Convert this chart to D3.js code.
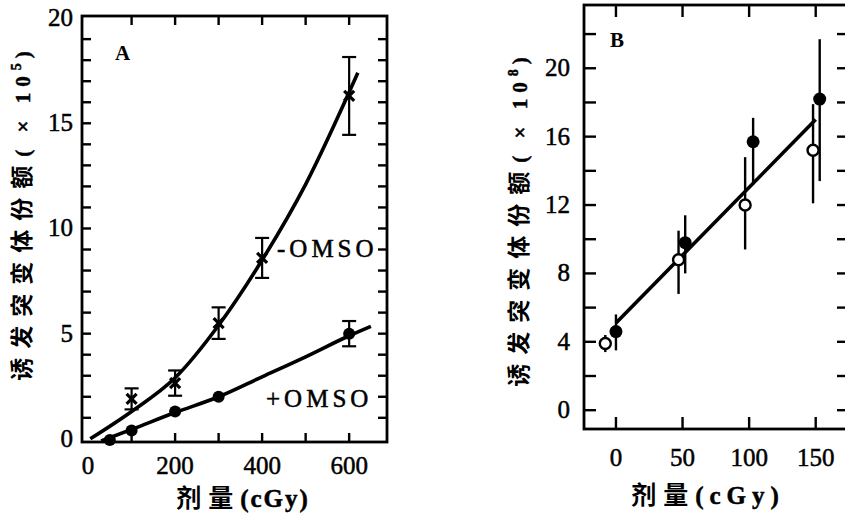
<!DOCTYPE html>
<meta charset="UTF-8">
<style>
    body { margin: 0; background: #fff; }
    svg { display: block; }
    .frame { fill: none; stroke: #000; stroke-width: 2.8px; }
    .tick { stroke: #000; stroke-width: 2.4px; }
    .num { font-family: "Liberation Serif", "Times New Roman", serif; font-size: 25px; fill: #000; stroke: #000; stroke-width: 0.5px; }
    .cn { font-family: "Noto Sans CJK SC", sans-serif; font-weight: bold; font-size: 23px; fill: #000; }
    .fit { fill: none; stroke: #000; stroke-width: 3.6px; }
</style>
<body>
<svg id="chart" width="845" height="520"></svg>
<script src="https://cdnjs.cloudflare.com/ajax/libs/d3/7.8.5/d3.min.js"></script>
<script>
    // ---- panel A data ----
    var doseA = [100, 200, 300, 400, 600];
    var minusOmso = [1.9, 2.65, 5.5, 8.6, 16.3];
    var minusOmsoErr = [0.5, 0.6, 0.75, 0.95, 1.85];
    var dosePlus = [50, 100, 200, 300, 600];
    var plusOmso = [-0.05, 0.4, 1.3, 2.0, 5.0];
    var plusOmsoErr = [0, 0, 0, 0, 0.6];
    // fitted curves as drawn in the figure
    var minusFitX = [5, 100, 200, 300, 400, 500, 620];
    var minusFitY = [0, 1.3, 2.9, 5.4, 8.5, 12.1, 17.4];
    var plusFitX = [30, 100, 200, 300, 400, 500, 600, 650];
    var plusFitY = [-0.1, 0.45, 1.25, 2.0, 2.95, 3.9, 4.9, 5.35];
    var ticksAx = [0, 200, 400, 600];
    var ticksAy = [0, 5, 10, 15, 20];

    // ---- panel B data ----
    var doseFilled = [0, 52, 103, 153];
    var filledVal = [4.6, 9.8, 15.7, 18.2];
    var filledLo = [3.5, 8.0, 13.2, 13.4];
    var filledHi = [5.6, 11.4, 17.1, 21.7];
    var doseOpen = [-8, 47, 97, 148];
    var openVal = [3.9, 8.8, 12.0, 15.2];
    var openLo = [3.4, 6.8, 9.4, 12.1];
    var openHi = [4.4, 10.5, 14.8, 17.9];
    var lineBX = [0, 150];
    var lineBY = [5.1, 17.0];
    var ticksBx = [0, 50, 100, 150];
    var ticksBy = [0, 4, 8, 12, 16, 20];

    var svg = d3.select("#chart");

    // scales
    var xA = d3.scaleLinear().domain([-14, 687]).range([82, 387]);
    var yA = d3.scaleLinear().domain([-0.15, 20.1]).range([442, 16]);
    var xB = d3.scaleLinear().domain([-24, 175]).range([584, 849]);
    var yB = d3.scaleLinear().domain([-1.1, 23.7]).range([429, 5]);

    function frame(x, y) {
        var x0 = x.range()[0], x1 = x.range()[1], y0 = y.range()[0], y1 = y.range()[1];
        svg.append("rect").attr("class", "frame")
                .attr("x", x0).attr("y", y1)
                .attr("width", x1 - x0).attr("height", y0 - y1);
    }

    // inward ticks on all four sides
    function ticks(x, y, xt, yt, len) {
        var x0 = x.range()[0], x1 = x.range()[1], y0 = y.range()[0], y1 = y.range()[1];
        xt.forEach(function (v) {
            svg.append("line").attr("class", "tick")
                    .attr("x1", x(v)).attr("x2", x(v)).attr("y1", y0).attr("y2", y0 - len);
            svg.append("line").attr("class", "tick")
                    .attr("x1", x(v)).attr("x2", x(v)).attr("y1", y1).attr("y2", y1 + len);
        });
        yt.forEach(function (v) {
            svg.append("line").attr("class", "tick")
                    .attr("x1", x0).attr("x2", x0 + len).attr("y1", y(v)).attr("y2", y(v));
            svg.append("line").attr("class", "tick")
                    .attr("x1", x1).attr("x2", x1 - len).attr("y1", y(v)).attr("y2", y(v));
        });
    }

    // rotated y title: Chinese part then "( × 10^n )"
    function yTitle(cx, cy, exp) {
        var t = svg.append("text").attr("class", "cn")
                .attr("transform", "translate(" + cx + "," + cy + ") rotate(-90)")
                .attr("text-anchor", "middle");
        t.append("tspan").style("letter-spacing", "9px").text("诱发突变体份额");
        t.append("tspan").attr("class", "num").style("font-size", "21px")
                .style("letter-spacing", "6px").text("( × 10");
        t.append("tspan").attr("dy", -9).attr("class", "num").style("font-size", "14px")
                .style("letter-spacing", "5px").text(exp);
        t.append("tspan").attr("dy", 9).attr("class", "num").style("font-size", "21px").text(")");
    }

    function xTitle(cx, y, gap) {
        var t = svg.append("text").attr("class", "cn").attr("x", cx).attr("y", y)
                .attr("text-anchor", "middle").style("font-size", "25px");
        t.append("tspan").style("letter-spacing", "7px").text("剂量");
        t.append("tspan").attr("class", "num").style("font-size", "25px")
                .style("letter-spacing", gap + "px").text("(cGy)");
    }

    // ****************** panel A ******************
    frame(xA, yA);
    ticks(xA, yA, d3.range(100, 700, 100), d3.range(1, 20, 1), 9);

    svg.selectAll("text.ax").data(ticksAx).enter().append("text")
            .attr("class", "num").attr("text-anchor", "middle")
            .attr("x", function (d) { return xA(d); }).attr("y", 474)
            .text(function (d) { return d; });
    svg.selectAll("text.ay").data(ticksAy).enter().append("text")
            .attr("class", "num").attr("text-anchor", "end")
            .attr("x", 73).attr("y", function (d) { return yA(d) + 8; })
            .text(function (d) { return d; });

    var lineA = d3.line()
            .x(function (d) { return xA(d[0]); })
            .y(function (d) { return yA(d[1]); })
            .curve(d3.curveMonotoneX);

    svg.append("path").attr("class", "fit")
            .attr("d", lineA(d3.zip(minusFitX, minusFitY)));
    svg.append("path").attr("class", "fit")
            .attr("d", lineA(d3.zip(plusFitX, plusFitY)));

    // error bars with caps
    function capBar(x, v, e) {
        if (!e) return;
        var g = svg.append("g").attr("stroke", "#000").attr("stroke-width", 2.2);
        g.append("line").attr("x1", x).attr("x2", x).attr("y1", yA(v - e)).attr("y2", yA(v + e));
        g.append("line").attr("x1", x - 7).attr("x2", x + 7).attr("y1", yA(v - e)).attr("y2", yA(v - e));
        g.append("line").attr("x1", x - 7).attr("x2", x + 7).attr("y1", yA(v + e)).attr("y2", yA(v + e));
    }

    doseA.forEach(function (d, i) {
        var px = xA(d), py = yA(minusOmso[i]);
        capBar(px, minusOmso[i], minusOmsoErr[i]);
        svg.append("path")
                .attr("d", "M" + (px - 5) + "," + (py - 5) + "L" + (px + 5) + "," + (py + 5)
                        + "M" + (px + 5) + "," + (py - 5) + "L" + (px - 5) + "," + (py + 5))
                .attr("stroke", "#000").attr("stroke-width", 3.2);
    });
    dosePlus.forEach(function (d, i) {
        capBar(xA(d), plusOmso[i], plusOmsoErr[i]);
        svg.append("circle").attr("cx", xA(d)).attr("cy", yA(plusOmso[i]))
                .attr("r", 6).attr("fill", "#000");
    });

    svg.append("text").attr("x", 115).attr("y", 60)
            .style("font", "bold 21px 'Liberation Serif', serif").text("A");
    svg.append("text").attr("class", "num").attr("x", 277).attr("y", 257)
            .style("letter-spacing", "4px").text("-OMSO");
    svg.append("text").attr("class", "num").attr("x", 266).attr("y", 407)
            .style("letter-spacing", "4px").text("+OMSO");

    yTitle(30, 216, "5");
    xTitle(243, 507, 2);

    // ****************** panel B ******************
    frame(xB, yB);
    ticks(xB, yB, ticksBx, d3.range(0, 24, 2), 12);

    svg.selectAll("text.bx").data(ticksBx).enter().append("text")
            .attr("class", "num").attr("text-anchor", "middle")
            .attr("x", function (d) { return xB(d); }).attr("y", 466)
            .text(function (d) { return d; });
    svg.selectAll("text.by").data(ticksBy).enter().append("text")
            .attr("class", "num").attr("text-anchor", "end")
            .attr("x", 570).attr("y", function (d) { return yB(d) + 8; })
            .text(function (d) { return d; });

    var lineB = d3.line()
            .x(function (d) { return xB(d[0]); })
            .y(function (d) { return yB(d[1]); });
    svg.append("path").attr("class", "fit").attr("stroke-width", 4.4)
            .attr("d", lineB(d3.zip(lineBX, lineBY)));

    doseOpen.forEach(function (d, i) {
        svg.append("line").attr("stroke", "#000").attr("stroke-width", 2.4)
                .attr("x1", xB(d)).attr("x2", xB(d))
                .attr("y1", yB(openLo[i])).attr("y2", yB(openHi[i]));
        svg.append("circle").attr("cx", xB(d)).attr("cy", yB(openVal[i]))
                .attr("r", 5.5).attr("fill", "#fff").attr("stroke", "#000").attr("stroke-width", 2.4);
    });
    doseFilled.forEach(function (d, i) {
        svg.append("line").attr("stroke", "#000").attr("stroke-width", 2.4)
                .attr("x1", xB(d)).attr("x2", xB(d))
                .attr("y1", yB(filledLo[i])).attr("y2", yB(filledHi[i]));
        svg.append("circle").attr("cx", xB(d)).attr("cy", yB(filledVal[i]))
                .attr("r", 6.5).attr("fill", "#000");
    });

    svg.append("text").attr("x", 610).attr("y", 47)
            .style("font", "bold 21px 'Liberation Serif', serif").text("B");

    yTitle(527, 222, "8");
    xTitle(708, 504, 6);
</script>
</body>
